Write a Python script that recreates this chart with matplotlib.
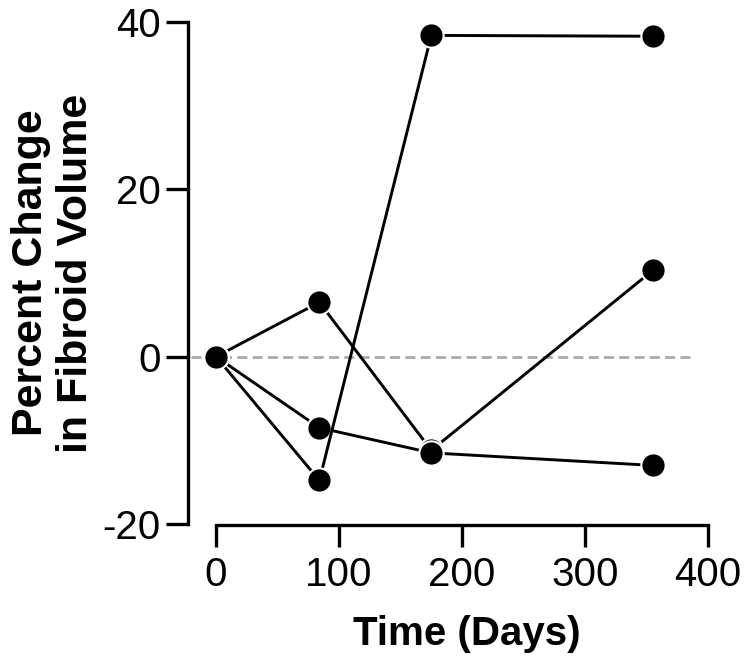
import matplotlib
matplotlib.use('Agg')
from matplotlib import pyplot as plt

plt.rcParams['font.family'] = ['Liberation Sans', 'DejaVu Sans']

days = [0, 84, 175, 355]
series_a = [0, 6.5, -11.2, 10.3]
series_b = [0, -8.5, -11.5, -13.0]
series_c = [0, -14.8, 38.4, 38.3]

fig = plt.figure(figsize=(7.5, 6.59), dpi=100)
ax = fig.add_axes([0.2507, 0.2049, 0.6933, 0.7617])

ax.plot([-20, 385], [0, 0], color='#aaaaaa', lw=2, ls=(0, (3.6, 1.9)), zorder=1)

for s in (series_a, series_b, series_c):
    ax.plot(days, s, color='black', lw=2.1, marker='o', markersize=17.5,
            markerfacecolor='black', markeredgecolor='white', markeredgewidth=1.5,
            clip_on=False, zorder=3)

ax.set_xlim(-22.8, 400)
ax.set_ylim(-20, 40)
ax.set_xticks([0, 100, 200, 300, 400])
ax.set_yticks([-20, 0, 20, 40])
ax.set_yticklabels(['-20', '0', '20', '40'])

for side in ('top', 'right'):
    ax.spines[side].set_visible(False)
ax.spines['bottom'].set_bounds(0, 400)
ax.spines['left'].set_linewidth(2.4)
ax.spines['bottom'].set_linewidth(2.4)
ax.spines['bottom'].set_position(('outward', 1))
ax.tick_params(axis='both', length=16, width=2.4, labelsize=29)
ax.tick_params(axis='y', pad=3.5)
ax.tick_params(axis='x', pad=6)

ax.set_xlabel('Time (Days)', fontsize=29, fontweight='bold', labelpad=15)
ax.xaxis.label.set_x(0.536)
ax.set_ylabel('Percent Change\nin Fibroid Volume', fontsize=31, fontweight='bold',
              labelpad=5, linespacing=1.15)

plt.savefig('out.png', dpi=100)
